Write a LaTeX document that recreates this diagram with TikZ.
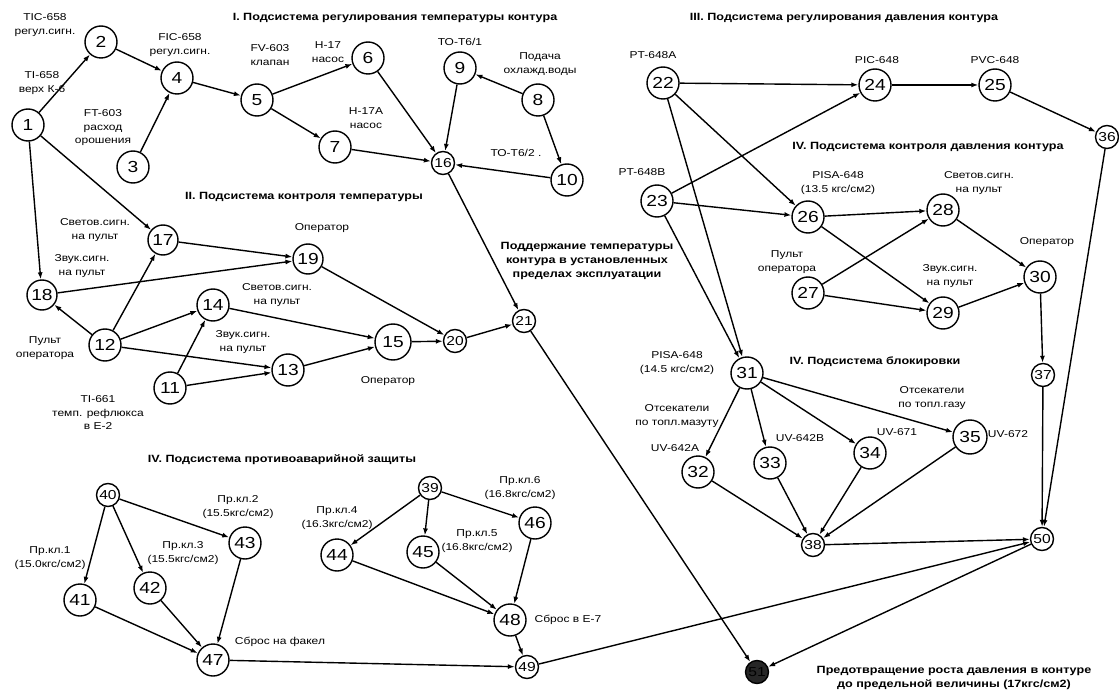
\documentclass[tikz,border=0pt]{standalone}
\usepackage{fontspec}
\setmainfont{Liberation Sans}[FakeStretch=1.2]
\usetikzlibrary{arrows.meta}

\tikzset{
  vertex/.style={circle,draw,line width=1.4pt,fill=white,minimum size=32pt,inner sep=0pt,font=\fontsize{16}{16}\selectfont},
  tiny/.style={vertex,minimum size=23pt,font=\fontsize{13}{13}\selectfont},
  lbl/.style={align=center,font=\fontsize{10}{13.5}\selectfont},
  ttl/.style={align=center,font=\fontsize{10.5}{14}\selectfont\bfseries},
  arr/.style={line width=1.4pt,-{Latex[length=7pt,width=5pt]}}
}

\begin{document}
\begin{tikzpicture}[x=1pt,y=-1pt]
\useasboundingbox (0,0) rectangle (1119,695);

% I. temperature control
\node[vertex] (n1) at (28,125) {1};
\node[vertex] (n2) at (101,42) {2};
\node[vertex] (n3) at (133,167) {3};
\node[vertex] (n4) at (177,78) {4};
\node[vertex] (n5) at (257,100) {5};
\node[vertex] (n6) at (368,58) {6};
\node[vertex] (n7) at (335,147) {7};
\node[vertex] (n8) at (538,100) {8};
\node[vertex] (n9) at (460,68) {9};
\node[vertex] (n10) at (567,180) {10};
\node[tiny] (n16) at (443,163) {16};

% II. temperature monitoring
\node[vertex] (n11) at (170,388) {11};
\node[vertex] (n12) at (105,345) {12};
\node[vertex] (n13) at (288,370) {13};
\node[vertex] (n14) at (213,305) {14};
\node[vertex,minimum size=36pt] (n15) at (393,342) {15};
\node[vertex,minimum size=30pt] (n17) at (163,240) {17};
\node[vertex,minimum size=30pt] (n18) at (42,295) {18};
\node[vertex,minimum size=30pt] (n19) at (308,259) {19};
\node[tiny] (n20) at (455,341) {20};
\node[tiny] (n21) at (524,321) {21};

% III. pressure control
\node[vertex] (n22) at (663,83) {22};
\node[vertex] (n23) at (657,201) {23};
\node[vertex] (n24) at (875,85) {24};
\node[vertex] (n25) at (995,85) {25};
\node[tiny] (n36) at (1107,137) {36};
\node[vertex] (n26) at (808,217) {26};
\node[vertex] (n27) at (808,293) {27};
\node[vertex] (n28) at (943,210) {28};
\node[vertex] (n29) at (943,313) {29};
\node[vertex] (n30) at (1040,277) {30};
\node[tiny] (n37) at (1043,375) {37};

% IV. interlocks
\node[vertex] (n31) at (747,373) {31};
\node[vertex] (n32) at (698,472) {32};
\node[vertex] (n33) at (770,463) {33};
\node[vertex] (n34) at (870,453) {34};
\node[vertex,minimum size=34pt] (n35) at (970,437) {35};
\node[tiny] (n38) at (813,545) {38};
\node[tiny] (n50) at (1042,539) {50};
\node[tiny,fill=black!85] (n51) at (757,672) {51};

% IV. emergency protection
\node[tiny] (n40) at (108,495) {40};
\node[vertex] (n41) at (80,600) {41};
\node[vertex] (n42) at (150,588) {42};
\node[vertex] (n43) at (245,543) {43};
\node[vertex] (n47) at (213,660) {47};
\node[tiny] (n39) at (430,488) {39};
\node[vertex] (n44) at (337,555) {44};
\node[vertex] (n45) at (423,552) {45};
\node[vertex] (n46) at (535,523) {46};
\node[vertex] (n48) at (510,620) {48};
\node[tiny] (n49) at (527,667) {49};

\foreach \a/\b in {1/2,2/4,3/4,4/5,5/6,5/7,6/16,7/16,9/16,8/9,8/10,10/16,16/21,
  1/17,1/18,12/18,12/17,17/19,18/19,12/14,11/14,12/13,11/13,14/15,13/15,19/20,15/20,20/21,21/51,
  22/24,23/24,22/26,23/26,22/31,23/31,24/25,25/36,36/50,26/28,26/29,27/28,27/29,28/30,29/30,30/37,37/50,
  31/32,31/33,31/34,31/35,32/38,33/38,34/38,35/38,38/50,50/51,
  40/41,40/42,40/43,41/47,42/47,43/47,47/49,39/44,39/45,39/46,44/48,45/48,46/48,48/49,49/50}
  \draw[arr] (n\a) -- (n\b);

% titles
\node[ttl] (t1) at (395,18) {I. Подсистема регулирования температуры контура};
\node[ttl] (t2) at (304,197) {II. Подсистема контроля температуры};
\node[ttl] (t3) at (844,18) {III. Подсистема регулирования давления контура};
\node[ttl] (t4) at (928,147) {IV. Подсистема контроля давления контура};
\node[ttl] (t5) at (875,362) {IV. Подсистема блокировки};
\node[ttl] (t6) at (282,460) {IV. Подсистема противоаварийной защиты};
\node[ttl] (g1) at (587,261) {Поддержание температуры\\контура в установленных\\пределах эксплуатации};
\node[ttl] (g2) at (954,678) {Предотвращение роста давления в контуре\\до предельной величины (17кгс/см2)};

% labels
\node[lbl] at (45,25) {TIC-658\\регул.сигн.};
\node[lbl] at (42,83) {TI-658\\верх К-6};
\node[lbl] at (180,45) {FIC-658\\регул.сигн.};
\node[lbl] at (103,128) {FT-603\\расход\\орошения};
\node[lbl] at (270,55) {FV-603\\клапан};
\node[lbl] at (328,52) {Н-17\\насос};
\node[lbl] at (366,118) {Н-17А\\насос};
\node[lbl] at (460,42) {ТО-Т6/1};
\node[lbl] at (540,64) {Подача\\охлажд.воды};
\node[lbl] at (516,153) {ТО-Т6/2 .};
\node[lbl] at (95,230) {Светов.сигн.\\на пульт};
\node[lbl] at (82,266) {Звук.сигн.\\на пульт};
\node[lbl] at (45,348) {Пульт\\оператора};
\node[lbl] at (98,413) {TI-661\\темп. рефлюкса\\в Е-2};
\node[lbl] at (322,228) {Оператор};
\node[lbl] at (277,295) {Светов.сигн.\\на пульт};
\node[lbl] at (243,342) {Звук.сигн.\\на пульт};
\node[lbl] at (388,381) {Оператор};
\node[lbl] at (653,55) {PT-648A};
\node[lbl] at (642,172) {PT-648B};
\node[lbl] at (877,60) {PIC-648};
\node[lbl] at (995,60) {PVC-648};
\node[lbl] at (838,183) {PISA-648\\(13.5 кгс/см2)};
\node[lbl] at (979,183) {Светов.сигн.\\на пульт};
\node[lbl] at (787,262) {Пульт\\оператора};
\node[lbl] at (950,276) {Звук.сигн.\\на пульт};
\node[lbl] at (1047,242) {Оператор};
\node[lbl] at (677,363) {PISA-648\\(14.5 кгс/см2)};
\node[lbl] at (677,416) {Отсекатели\\по топл.мазуту};
\node[lbl] at (675,448) {UV-642A};
\node[lbl] at (800,438) {UV-642B};
\node[lbl] at (897,432) {UV-671};
\node[lbl] at (932,398) {Отсекатели\\по топл.газу};
\node[lbl] at (1008,434) {UV-672};
\node[lbl] at (50,558) {Пр.кл.1\\(15.0кгс/см2)};
\node[lbl] at (238,507) {Пр.кл.2\\(15.5кгс/см2)};
\node[lbl] at (183,553) {Пр.кл.3\\(15.5кгс/см2)};
\node[lbl] at (280,642) {Сброс на факел};
\node[lbl] at (337,518) {Пр.кл.4\\(16.3кгс/см2)};
\node[lbl] at (477,541) {Пр.кл.5\\(16.8кгс/см2)};
\node[lbl] at (520,488) {Пр.кл.6\\(16.8кгс/см2)};
\node[lbl] at (568,620) {Сброс в Е-7};
\end{tikzpicture}
\end{document}
